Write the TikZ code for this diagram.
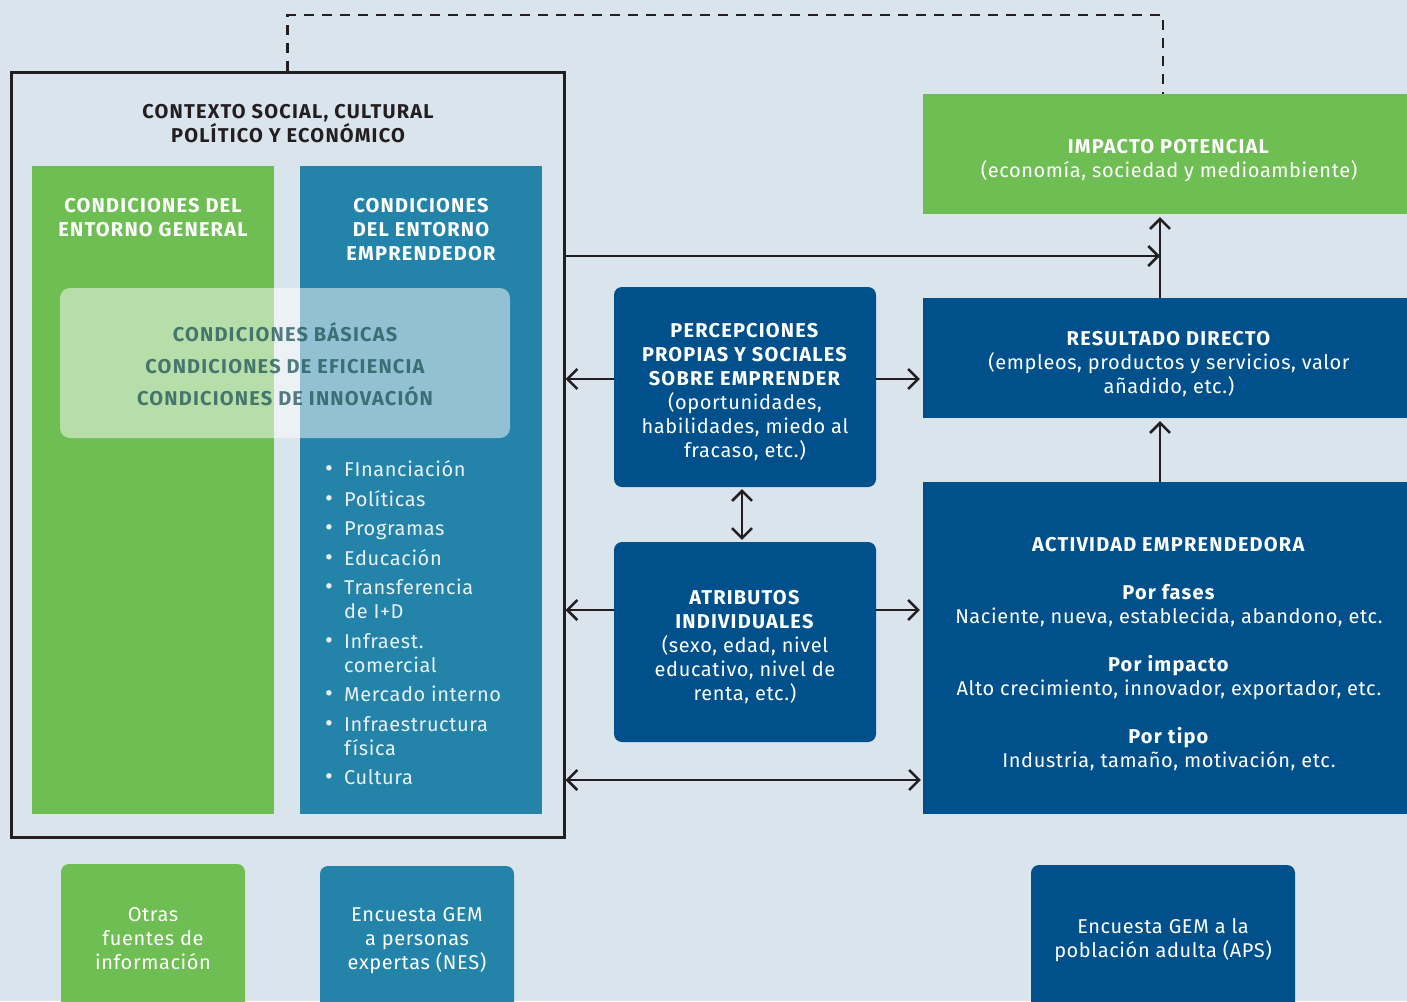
\documentclass[tikz,border=0pt]{standalone}
\usepackage{fontspec}
\setmainfont{Fira Sans}[LetterSpace=3, BoldFeatures={LetterSpace=6}]
\usetikzlibrary{arrows.meta}
\definecolor{fondo}{HTML}{DAE4ED}
\definecolor{verde}{HTML}{6FBE54}
\definecolor{turquesa}{HTML}{2383A8}
\definecolor{azul}{HTML}{00508C}
\definecolor{tinta}{HTML}{231F20}
\definecolor{claro}{HTML}{EAF1F6}
\definecolor{sombra}{HTML}{1E5457}
\newcommand{\punto}{\makebox[19pt][l]{\raisebox{0pt}{\fontsize{24}{24}\selectfont\textbullet}}}
\newcommand{\sigue}{\hspace*{19pt}}

\begin{document}
\fontsize{20}{24}\selectfont
\begin{tikzpicture}[x=1pt,y=-1pt,
    >={Straight Barb[length=10pt,width=20pt]},
    bloque/.style={inner sep=0pt, text=white, align=center},
    linea/.style={draw=tinta, line width=2.5pt}]
      % Background and page size
      \fill[fondo] (0,0) rectangle (1407,1001);
      \useasboundingbox (0,0) rectangle (1407,1001);

      % Draw the context frame and its title
      \node[draw=tinta, line width=3pt, minimum width=553pt, minimum height=765pt, inner sep=0pt] (contexto) at (287.5,454.5) {};
      \node[bloque, text=tinta, font=\bfseries] (titulo) at (288,124) {CONTEXTO SOCIAL, CULTURAL\\POLÍTICO Y ECONÓMICO};

      % The two columns of conditions
      \node[bloque, fill=verde, minimum width=242pt, minimum height=648pt] (general) at (153,490) {};
      \node[bloque, fill=turquesa, minimum width=242pt, minimum height=648pt] (emprendedor) at (421,490) {};
      \node[bloque, font=\bfseries] (generaltit) at (153,218) {CONDICIONES DEL\\ENTORNO GENERAL};
      \node[bloque, font=\bfseries] (emprendedortit) at (421,230) {CONDICIONES\\DEL ENTORNO\\EMPRENDEDOR};

      % Light band over both columns
      \node[fill=white, fill opacity=0.5, rounded corners=10pt, minimum width=450pt, minimum height=150pt] (condiciones) at (285,363) {};
      \node[bloque, text=sombra, text opacity=0.75, font=\bfseries] (basicas) at (285,364) {CONDICIONES BÁSICAS\\[8pt]CONDICIONES DE EFICIENCIA\\[8pt]CONDICIONES DE INNOVACIÓN};

      % List of the entrepreneurial conditions
      \node[bloque, text=claro, align=left, anchor=west] (lista) at (325,623) {\punto FInanciación\\[5.5pt]\punto Políticas\\[5.5pt]\punto Programas\\[5.5pt]\punto Educación\\[5.5pt]\punto Transferencia\\\sigue de I+D\\[5.5pt]\punto Infraest.\\\sigue comercial\\[5.5pt]\punto Mercado interno\\[5.5pt]\punto Infraestructura\\\sigue física\\[5.5pt]\punto Cultura};

      % Middle boxes
      \node[bloque, fill=azul, rounded corners=8pt, minimum width=262pt, minimum height=200pt] (percepciones) at (745,387) {};
      \node[bloque, yshift=-5pt] (percepcionestxt) at (percepciones) {\textbf{PERCEPCIONES}\\\textbf{PROPIAS Y SOCIALES}\\\textbf{SOBRE EMPRENDER}\\(oportunidades,\\habilidades, miedo al\\fracaso, etc.)};
      \node[bloque, fill=azul, rounded corners=8pt, minimum width=262pt, minimum height=200pt] (atributos) at (745,642) {};
      \node[bloque, yshift=-5pt] (atributostxt) at (atributos) {\textbf{ATRIBUTOS}\\\textbf{INDIVIDUALES}\\(sexo, edad, nivel\\educativo, nivel de\\renta, etc.)};

      % Right boxes
      \node[bloque, fill=verde, minimum width=484pt, minimum height=120pt] (impacto) at (1165,154) {};
      \node[bloque, xshift=4pt, yshift=-7pt] (impactotxt) at (impacto) {\textbf{IMPACTO POTENCIAL}\\(economía, sociedad y medioambiente)};
      \node[bloque, fill=azul, minimum width=484pt, minimum height=120pt] (resultado) at (1165,358) {};
      \node[bloque, xshift=4pt, yshift=-6pt] (resultadotxt) at (resultado) {\textbf{RESULTADO DIRECTO}\\(empleos, productos y servicios, valor\\añadido, etc.)};
      \node[bloque, fill=azul, minimum width=484pt, minimum height=332pt] (actividad) at (1165,648) {};
      \node[bloque, xshift=4pt, yshift=-6pt] (actividadtxt) at (actividad) {\textbf{ACTIVIDAD EMPRENDEDORA}\\[24pt]\textbf{Por fases}\\Naciente, nueva, establecida, abandono, etc.\\[24pt]\textbf{Por impacto}\\Alto crecimiento, innovador, exportador, etc.\\[24pt]\textbf{Por tipo}\\Industria, tamaño, motivación, etc.};

      % Sources at the bottom
      \node[bloque, fill=verde, rounded corners=8pt, minimum width=184pt, minimum height=150pt] (otras) at (153,939) {Otras\\fuentes de\\información};
      \node[bloque, fill=turquesa, rounded corners=8pt, minimum width=194pt, minimum height=150pt] (nes) at (417,941) {Encuesta GEM\\a personas\\expertas (NES)};
      \node[bloque, fill=azul, rounded corners=8pt, minimum width=264pt, minimum height=150pt] (aps) at (1163,940) {Encuesta GEM a la\\población adulta (APS)};

      % Dashed feedback line
      \coordinate (arriba) at (1163,15);
      \draw[linea, dash pattern=on 10pt off 8pt] (contexto.north) |- (arriba) -- (arriba |- impacto.north);

      % Arrows
      \draw[linea, ->, shorten >=3pt] ([xshift=-5pt]resultado.north) -- ([xshift=-5pt]impacto.south);
      \draw[linea, ->, shorten >=3pt] ([xshift=-5pt]actividad.north) -- ([xshift=-5pt]resultado.south);
      \draw[linea, ->] (contexto.east |- 0,256) -- (1160,256);
      \draw[linea, ->] ([yshift=8pt]percepciones.west) -- ([yshift=8pt]percepciones.west -| contexto.east);
      \draw[linea, ->, shorten >=3pt] ([yshift=8pt]percepciones.east) -- ([yshift=8pt]percepciones.east -| resultado.west);
      \draw[linea, ->] ([yshift=32pt]atributos.west) -- ([yshift=32pt]atributos.west -| contexto.east);
      \draw[linea, ->, shorten >=3pt] ([yshift=32pt]atributos.east) -- ([yshift=32pt]atributos.east -| actividad.west);
      \draw[linea, <->, shorten >=2pt, shorten <=2pt] ([xshift=-3pt]percepciones.south) -- ([xshift=-3pt]atributos.north);
      \draw[linea, <->, shorten >=2pt] (contexto.east |- 0,780) -- (actividad.west |- 0,780);
\end{tikzpicture}
\end{document}
